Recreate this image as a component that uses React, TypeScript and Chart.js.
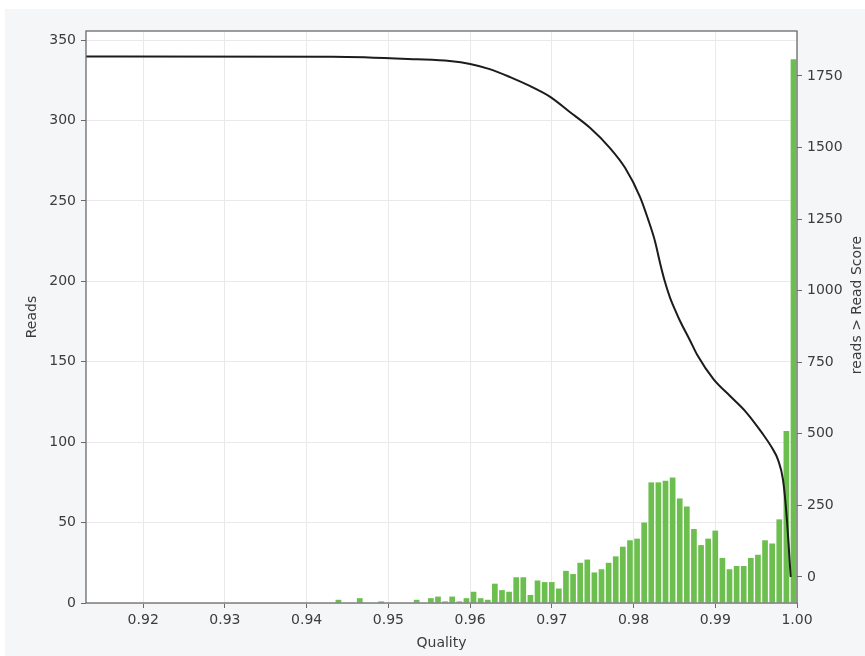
import React, { useEffect, useRef } from "react";
import { Chart, registerables } from "chart.js";

Chart.register(...registerables);

// Histogram bins (bin centre quality) and read counts
const binQuality = [
  0.94389, 0.9465, 0.94911, 0.95346, 0.9552, 0.95607, 0.95694, 0.95781, 0.95868, 0.95955,
  0.96042, 0.96129, 0.96216, 0.96303, 0.9639, 0.96477, 0.96564, 0.96651, 0.96738, 0.96825,
  0.96912, 0.96999, 0.97086, 0.97173, 0.9726, 0.97347, 0.97434, 0.97521, 0.97608, 0.97695,
  0.97782, 0.97869, 0.97956, 0.98043, 0.9813, 0.98217, 0.98304, 0.98391, 0.98478, 0.98565,
  0.98652, 0.98739, 0.98826, 0.98913, 0.99, 0.99087, 0.99174, 0.99261, 0.99348, 0.99435,
  0.99522, 0.99609, 0.99696, 0.99783, 0.9987, 0.99957,
];
const binReads = [
  2, 3, 1, 2, 3, 4, 1, 4, 1, 3,
  7, 3, 2, 12, 8, 7, 16, 16, 5, 14,
  13, 13, 9, 20, 18, 25, 27, 19, 21, 25,
  29, 35, 39, 40, 50, 75, 75, 76, 78, 65,
  60, 46, 36, 40, 45, 28, 21, 23, 23, 28,
  30, 39, 37, 52, 107, 338,
];

// Cumulative curve: reads with score above the quality
const curveQuality = [
  0.913, 0.9432, 0.9535, 0.9575, 0.96, 0.9624, 0.9649, 0.9673, 0.9698, 0.9722,
  0.9747, 0.97712, 0.97896, 0.9808, 0.98177, 0.98263, 0.98324, 0.98385, 0.98447, 0.98508,
  0.98569, 0.98691, 0.9878, 0.9898, 0.99181, 0.99376, 0.99572, 0.99694, 0.99768, 0.99829,
  0.99872, 0.99923,
];
const curveReads = [
  1818, 1817, 1808, 1802, 1792, 1774, 1746, 1715, 1677, 1624,
  1568, 1498, 1429, 1327, 1250, 1172, 1097, 1030, 975, 933,
  894, 826, 775, 690, 632, 576, 503, 451, 409, 339,
  217, 0,
];

const qualityTicks = [0.92, 0.93, 0.94, 0.95, 0.96, 0.97, 0.98, 0.99, 1.0];
const readsTicks = [0, 50, 100, 150, 200, 250, 300, 350];
const cumulativeTicks = [0, 250, 500, 750, 1000, 1250, 1500, 1750];

const xTitle = "Quality";
const yTitle = "Reads";
const y2Title = "reads > Read Score";

const FONT = "DejaVu Sans";
const TEXT = "#3c3c3c";
const AXIS = "#6a6a6a";

const decorPlugin = {
  id: "decor",
  beforeDraw(chart: any) {
    const { ctx, width, height, chartArea } = chart;
    ctx.save();
    ctx.fillStyle = "#ffffff";
    ctx.fillRect(0, 0, width, height);
    ctx.fillStyle = "#f5f6f8";
    ctx.fillRect(5, 9, width - 5, height - 9);
    ctx.fillStyle = "#ffffff";
    ctx.fillRect(chartArea.left, chartArea.top, chartArea.right - chartArea.left, chartArea.bottom - chartArea.top);
    ctx.restore();
  },
  afterDraw(chart: any) {
    const { ctx, chartArea } = chart;
    ctx.save();
    ctx.strokeStyle = AXIS;
    ctx.lineWidth = 1.3;
    ctx.strokeRect(chartArea.left, chartArea.top, chartArea.right - chartArea.left, chartArea.bottom - chartArea.top);
    ctx.fillStyle = TEXT;
    ctx.font = `14px "${FONT}"`;
    ctx.textAlign = "center";
    ctx.textBaseline = "middle";
    const midY = (chartArea.top + chartArea.bottom) / 2;
    ctx.fillText(xTitle, (chartArea.left + chartArea.right) / 2, 643);
    ctx.save();
    ctx.translate(32, midY);
    ctx.rotate(-Math.PI / 2);
    ctx.fillText(yTitle, 0, 0);
    ctx.restore();
    ctx.save();
    ctx.translate(857, midY - 12);
    ctx.rotate(-Math.PI / 2);
    ctx.fillText(y2Title, 0, 0);
    ctx.restore();
    ctx.restore();
  },
};

export default function App() {
  const ref = useRef<HTMLCanvasElement>(null);

  useEffect(() => {
    if (!ref.current) return;
    const chart = new Chart(ref.current, {
      type: "bar",
      data: {
        datasets: [
          {
            type: "line",
            label: y2Title,
            data: curveQuality.map((q, i) => ({ x: q, y: curveReads[i] })),
            yAxisID: "y2",
            borderColor: "#1c1c1c",
            borderWidth: 2,
            pointRadius: 0,
            cubicInterpolationMode: "monotone",
            order: 0,
          } as any,
          {
            type: "bar",
            label: yTitle,
            data: binQuality.map((q, i) => ({ x: q, y: binReads[i] })),
            yAxisID: "y",
            backgroundColor: "#6cbf4f",
            borderWidth: 0,
            barPercentage: 0.8,
            categoryPercentage: 1.0,
            order: 1,
          } as any,
        ],
      },
      options: {
        responsive: false,
        animation: false,
        layout: { padding: { top: 31, left: 0, right: 0, bottom: 0 } },
        plugins: { legend: { display: false }, tooltip: { enabled: false } },
        scales: {
          x: {
            type: "linear",
            min: 0.913,
            max: 1.0,
            offset: false,
            afterBuildTicks: (s: any) => {
              s.ticks = qualityTicks.map((v) => ({ value: v }));
            },
            afterFit: (s: any) => {
              s.height = 53;
            },
            ticks: {
              callback: (v: any) => Number(v).toFixed(2),
              color: TEXT,
              font: { family: FONT, size: 14 },
              padding: 4,
              maxRotation: 0,
              autoSkip: false,
            },
            grid: { color: "#e9e9ec", lineWidth: 1, tickLength: 5, tickColor: AXIS, offset: false },
            border: { display: false },
          },
          y: {
            type: "linear",
            position: "left",
            min: 0,
            max: 355.6,
            afterBuildTicks: (s: any) => {
              s.ticks = readsTicks.map((v) => ({ value: v }));
            },
            afterFit: (s: any) => {
              s.width = 86;
            },
            ticks: { callback: (v: any) => String(v), color: TEXT, font: { family: FONT, size: 14 }, padding: 5 },
            grid: { color: "#e9e9ec", lineWidth: 1, tickLength: 5, tickColor: AXIS },
            border: { display: false },
          },
          y2: {
            type: "linear",
            position: "right",
            min: -91,
            max: 1907,
            afterBuildTicks: (s: any) => {
              s.ticks = cumulativeTicks.map((v) => ({ value: v }));
            },
            afterFit: (s: any) => {
              s.width = 68;
            },
            ticks: { callback: (v: any) => String(v), color: TEXT, font: { family: FONT, size: 14 }, padding: 5 },
            grid: { drawOnChartArea: false, tickLength: 5, tickColor: AXIS },
            border: { display: false },
          },
        },
      },
      plugins: [decorPlugin],
    });
    return () => chart.destroy();
  }, []);

  return (
    <div style={{ position: "absolute", left: 0, top: 0, width: 865, height: 656 }}>
      <canvas ref={ref} width={865} height={656} style={{ display: "block" }} />
    </div>
  );
}
